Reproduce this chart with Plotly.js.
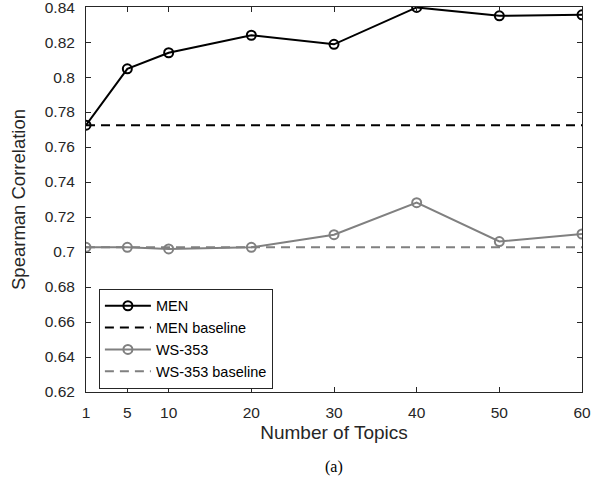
<!DOCTYPE html>
<html>
<head>
<meta charset="utf-8">
<script src="https://cdn.plot.ly/plotly-3.0.1.min.js"></script>
<style>html,body{margin:0;padding:0;background:#fff;}#chart{width:592px;height:480px;}</style>
</head>
<body>
<div id="chart"></div>
<script>
// Tick positions along the axis and their labels (first tick is labelled "1")
const topicPos = [0, 5, 10, 20, 30, 40, 50, 60];
const topicLabels = ['1', '5', '10', '20', '30', '40', '50', '60'];
const menValues = [0.7725, 0.8047, 0.8139, 0.8239, 0.8187, 0.8398, 0.8350, 0.8356];
const menBaseline = 0.7725;
const wsValues = [0.7027, 0.7027, 0.7018, 0.7027, 0.7099, 0.7282, 0.7060, 0.7103];
const wsBaseline = 0.7027;
const yTicks = [0.62, 0.64, 0.66, 0.68, 0.70, 0.72, 0.74, 0.76, 0.78, 0.80, 0.82, 0.84];

const font = 'Liberation Sans, Arial, Helvetica, sans-serif';
const axisColor = '#262626';
const traces = [
  {x: topicPos, y: menValues, name: 'MEN', mode: 'lines+markers',
   line: {color: '#000000', width: 2},
   marker: {symbol: 'circle-open', size: 9, color: '#000000', line: {width: 2, color: '#000000'}}},
  {x: [topicPos[0], topicPos[topicPos.length - 1]], y: [menBaseline, menBaseline], name: 'MEN baseline', mode: 'lines',
   line: {color: '#000000', width: 2, dash: '9px,6px'}},
  {x: topicPos, y: wsValues, name: 'WS-353', mode: 'lines+markers',
   line: {color: '#808080', width: 2},
   marker: {symbol: 'circle-open', size: 9, color: '#808080', line: {width: 2, color: '#808080'}}},
  {x: [topicPos[0], topicPos[topicPos.length - 1]], y: [wsBaseline, wsBaseline], name: 'WS-353 baseline', mode: 'lines',
   line: {color: '#808080', width: 2, dash: '9px,6px'}}
];

const layout = {
  width: 592, height: 480,
  margin: {l: 86, r: 10, t: 7, b: 88},
  paper_bgcolor: '#fff', plot_bgcolor: '#fff',
  font: {family: font, size: 15.5, color: axisColor},
  showlegend: true,
  legend: {x: 0.026, y: 0.268, xanchor: 'left', yanchor: 'top',
           bordercolor: axisColor, borderwidth: 1, bgcolor: '#fff', itemwidth: 46,
           font: {family: font, size: 14.5, color: '#000'}, tracegroupgap: 0},
  xaxis: {range: [0, 60], tickvals: topicPos, ticktext: topicLabels,
          ticks: 'inside', ticklen: 5, tickcolor: axisColor, ticklabelstandoff: 6,
          ticklabeloverflow: 'allow',
          showline: true, linecolor: axisColor, linewidth: 1, mirror: 'ticks',
          showgrid: false, zeroline: false,
          tickfont: {family: font, size: 15.5, color: axisColor},
          title: {text: 'Number of Topics', font: {family: font, size: 19, color: axisColor}, standoff: 6}},
  yaxis: {range: [0.62, 0.84005], tickvals: yTicks,
          ticktext: yTicks.map(v => String(+v.toFixed(2))),
          ticks: 'inside', ticklen: 5, tickcolor: axisColor, ticklabelstandoff: 7,
          ticklabeloverflow: 'allow',
          showline: true, linecolor: axisColor, linewidth: 1, mirror: 'ticks',
          showgrid: false, zeroline: false,
          tickfont: {family: font, size: 15.5, color: axisColor},
          title: {text: 'Spearman Correlation', font: {family: font, size: 18.5, color: axisColor}, standoff: 14}},
  annotations: [{text: '(a)', xref: 'paper', yref: 'paper', x: 0.5, y: -0.195, yanchor: 'middle',
                 showarrow: false, font: {family: 'Liberation Serif, Times New Roman, serif', size: 16, color: '#000'}}]
};

Plotly.newPlot('chart', traces, layout, {displayModeBar: false, staticPlot: true});
</script>
</body>
</html>
